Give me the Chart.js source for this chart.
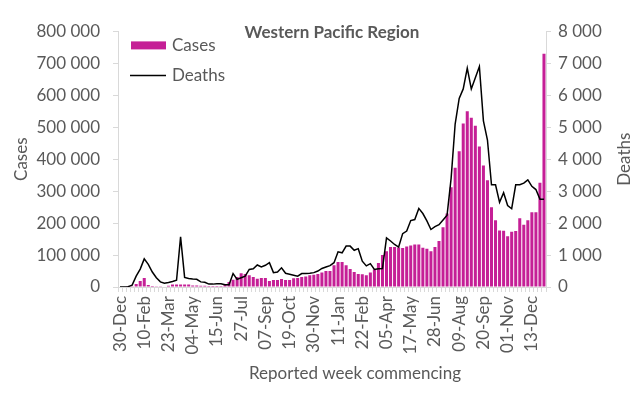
<!DOCTYPE html>
<html>
<head>
<meta charset="utf-8">
<title>Western Pacific Region</title>
<script src="https://cdn.jsdelivr.net/npm/chart.js@4.4.1/dist/chart.umd.min.js"></script>
<style>
  html, body { margin: 0; padding: 0; background: #ffffff; }
  #wrap { width: 643px; height: 393px; position: relative; }
</style>
</head>
<body>
<div id="wrap"><canvas id="chart"></canvas></div>
<script>
  // weeks commencing, 30-Dec-2019 .. 03-Jan-2022
  var weeks = [
    '30-Dec', '06-Jan', '13-Jan', '20-Jan', '27-Jan', '03-Feb', '10-Feb', '17-Feb', '24-Feb', '02-Mar',
    '09-Mar', '16-Mar', '23-Mar', '30-Mar', '06-Apr', '13-Apr', '20-Apr', '27-Apr', '04-May', '11-May',
    '18-May', '25-May', '01-Jun', '08-Jun', '15-Jun', '22-Jun', '29-Jun', '06-Jul', '13-Jul', '20-Jul',
    '27-Jul', '03-Aug', '10-Aug', '17-Aug', '24-Aug', '31-Aug', '07-Sep', '14-Sep', '21-Sep', '28-Sep',
    '05-Oct', '12-Oct', '19-Oct', '26-Oct', '02-Nov', '09-Nov', '16-Nov', '23-Nov', '30-Nov', '07-Dec',
    '14-Dec', '21-Dec', '28-Dec', '04-Jan', '11-Jan', '18-Jan', '25-Jan', '01-Feb', '08-Feb', '15-Feb',
    '22-Feb', '01-Mar', '08-Mar', '15-Mar', '22-Mar', '29-Mar', '05-Apr', '12-Apr', '19-Apr', '26-Apr',
    '03-May', '10-May', '17-May', '24-May', '31-May', '07-Jun', '14-Jun', '21-Jun', '28-Jun', '05-Jul',
    '12-Jul', '19-Jul', '26-Jul', '02-Aug', '09-Aug', '16-Aug', '23-Aug', '30-Aug', '06-Sep', '13-Sep',
    '20-Sep', '27-Sep', '04-Oct', '11-Oct', '18-Oct', '25-Oct', '01-Nov', '08-Nov', '15-Nov', '22-Nov',
    '29-Nov', '06-Dec', '13-Dec', '20-Dec', '27-Dec', '03-Jan'
  ];

  var cases = [
    0, 0, 300, 500, 9500, 19000, 28000, 6000, 3000, 2500,
    800, 1200, 4000, 8000, 8000, 8000, 8000, 8000, 5000, 4500,
    4000, 4000, 3500, 3500, 3500, 3000, 8000, 16000, 23000, 31000,
    43000, 41000, 37000, 31000, 26000, 28000, 28000, 19000, 22000, 22000,
    25000, 22000, 22000, 27000, 28000, 31000, 33000, 37000, 38000, 41000,
    45000, 50000, 50000, 68000, 78000, 78000, 68000, 56000, 47000, 41000,
    40000, 37000, 45000, 55000, 75000, 100000, 112000, 125000, 125000, 124000,
    122000, 127000, 130000, 133000, 133000, 123000, 120000, 112000, 125000, 144000,
    187000, 230000, 312000, 373000, 425000, 512000, 550000, 530000, 505000, 440000,
    380000, 334000, 250000, 209000, 177000, 176000, 159000, 173000, 175000, 215000,
    195000, 209000, 234000, 234000, 326000, 730000
  ];

  var deaths = [
    0, 0, 10, 60, 340, 560, 880, 710, 470, 290,
    160, 120, 140, 170, 210, 1570, 300, 265, 250, 240,
    160, 150, 90, 90, 100, 100, 70, 70, 420, 240,
    290, 340, 550, 570, 690, 630, 680, 760, 450, 470,
    600, 430, 400, 370, 340, 420, 420, 430, 450, 500,
    580, 625, 670, 760, 1100, 1070, 1280, 1280, 1150, 1200,
    810, 660, 730, 550, 570, 580, 1540, 1440, 1330, 1250,
    1670, 1750, 2080, 2110, 2460, 2300, 2070, 1800, 1890, 1950,
    2100, 2250, 3400, 5100, 5900, 6200, 6850, 6200, 6550, 6900,
    5200, 4600, 3200, 3200, 2650, 2950, 2550, 2450, 3200, 3200,
    3250, 3350, 3150, 3050, 2750, 2750
  ];

  var FONT = 'Lato, "Liberation Sans", sans-serif';
  var TEXT = '#595959';
  var AXIS = '#d9d9d9';
  var MAGENTA = '#C51F96';

  Chart.defaults.font.family = FONT;
  Chart.defaults.color = TEXT;

  function spaced(v) {
    return String(v).replace(/\B(?=(\d{3})+(?!\d))/g, ' ');
  }

  // legend inside the plot (top left), right axis title reading upwards,
  // and the x title sitting a little right of centre as in the original
  var extras = {
    id: 'extras',
    afterDatasetsDraw: function (chart) {
      var ctx = chart.ctx;
      var area = chart.chartArea;
      var bar = chart.data.datasets[0];
      var line = chart.data.datasets[1];
      var x = area.left + 13;
      ctx.save();
      ctx.font = '17px ' + FONT;
      ctx.textBaseline = 'middle';
      ctx.fillStyle = bar.backgroundColor;
      ctx.fillRect(x, area.top + 10, 35, 8);
      ctx.fillStyle = TEXT;
      ctx.fillText(bar.label, x + 41, area.top + 14);
      ctx.strokeStyle = line.borderColor;
      ctx.lineWidth = 1.5;
      ctx.beginPath();
      ctx.moveTo(x - 1, area.top + 44);
      ctx.lineTo(x + 35, area.top + 44);
      ctx.stroke();
      ctx.fillText(line.label, x + 41, area.top + 44);

      var xs = chart.scales.x;
      ctx.textAlign = 'center';
      ctx.fillText(xs.options.title.text, (area.left + area.right) / 2 + 23, xs.bottom - 19);

      var right = chart.scales.y1;
      ctx.translate(right.right - 18, (area.top + area.bottom) / 2);
      ctx.rotate(-Math.PI / 2);
      ctx.fillText(right.options.title.text, 0, 0);
      ctx.restore();
    }
  };

  new Chart(document.getElementById('chart'), {
    type: 'bar',
    data: {
      labels: weeks,
      datasets: [{
        label: 'Cases',
        data: cases,
        yAxisID: 'y',
        backgroundColor: MAGENTA,
        barPercentage: 0.75,
        categoryPercentage: 1,
        order: 1
      }, {
        type: 'line',
        label: 'Deaths',
        data: deaths,
        yAxisID: 'y1',
        borderColor: '#000000',
        backgroundColor: '#000000',
        borderWidth: 1.5,
        pointRadius: 0,
        tension: 0,
        fill: false,
        order: 0
      }]
    },
    options: {
      responsive: true,
      maintainAspectRatio: false,
      animation: false,
      devicePixelRatio: 1,
      layout: { padding: 0 },
      plugins: {
        legend: { display: false },
        tooltip: { enabled: false },
        title: {
          display: true,
          text: 'Western Pacific Region',
          fullSize: false,
          color: TEXT,
          font: { size: 17, weight: 'bold' },
          padding: { top: 22, bottom: -11 }
        }
      },
      scales: {
        x: {
          offset: true,
          grid: { drawOnChartArea: false, color: AXIS, tickLength: 5, offset: true },
          border: { color: AXIS },
          ticks: {
            autoSkip: false,
            minRotation: 90,
            maxRotation: 90,
            padding: 4,
            color: TEXT,
            font: { size: 17 },
            callback: function (value, index) {
              return index % 6 === 0 ? this.getLabelForValue(value) : '';
            }
          },
          // drawn by the extras plugin
          title: { display: false, text: 'Reported week commencing' },
          afterFit: function (scale) { scale.height = 106; }
        },
        y: {
          position: 'left',
          min: 0,
          max: 800000,
          grid: { drawOnChartArea: false, color: AXIS, tickLength: 5 },
          border: { color: AXIS },
          ticks: { stepSize: 100000, padding: 13, color: TEXT, font: { size: 17 }, callback: spaced },
          title: {
            display: true,
            text: 'Cases',
            color: TEXT,
            font: { size: 17 },
            padding: { top: 11, bottom: 0 }
          },
          afterFit: function (scale) { scale.width = 118; }
        },
        y1: {
          position: 'right',
          min: 0,
          max: 8000,
          grid: { drawOnChartArea: false, color: AXIS, tickLength: 5 },
          border: { color: AXIS },
          ticks: { stepSize: 1000, padding: 7, color: TEXT, font: { size: 17 }, callback: spaced },
          // drawn by the extras plugin so it reads bottom-to-top
          title: { display: false, text: 'Deaths' },
          afterFit: function (scale) { scale.width = 97; }
        }
      }
    },
    plugins: [extras]
  });
</script>
</body>
</html>
